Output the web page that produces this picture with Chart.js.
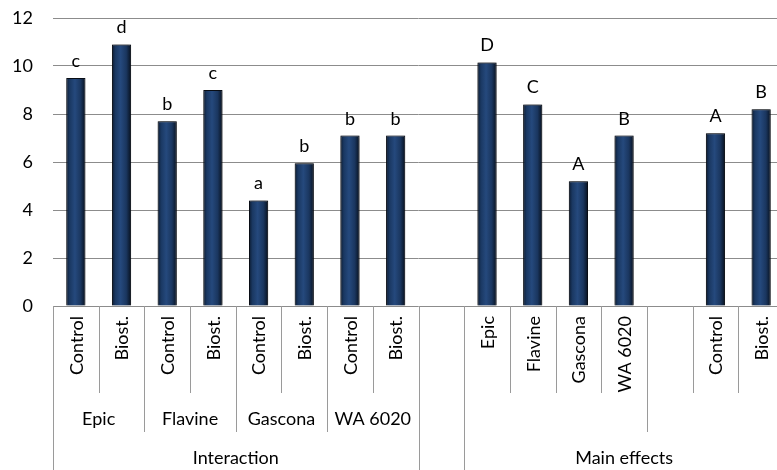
<!DOCTYPE html>
<html>
<head>
<meta charset="utf-8">
<script src="https://cdn.jsdelivr.net/npm/chart.js@4/dist/chart.umd.min.js"></script>
<style>
  html, body { margin: 0; padding: 0; background: #fff; overflow: hidden; }
  #wrap { width: 777px; height: 470px; overflow: hidden; }
</style>
</head>
<body>
<div id="wrap"><canvas id="chart" width="790" height="470"></canvas></div>
<script>
// bottom-level categories (one per slot, '' = spacer slot)
var categories = ['Control', 'Biost.', 'Control', 'Biost.', 'Control', 'Biost.', 'Control', 'Biost.', '',
                  'Epic', 'Flavine', 'Gascona', 'WA 6020', '', 'Control', 'Biost.'];
var values = [9.5, 10.9, 7.7, 9.0, 4.4, 5.95, 7.1, 7.1, null,
              10.15, 8.4, 5.2, 7.1, null, 7.2, 8.2];
var letters = ['c', 'd', 'b', 'c', 'a', 'b', 'b', 'b', '',
               'D', 'C', 'A', 'B', '', 'A', 'B'];

// second level: cultivar groups
var groupLabels = ['Epic', 'Flavine', 'Gascona', 'WA 6020', '', '', ''];
var groupSpans = [2, 2, 2, 2, 1, 4, 3];

// third level
var sectionLabels = ['Interaction', '', 'Main effects'];
var sectionSpans = [8, 1, 7];

var yTicks = [0, 2, 4, 6, 8, 10, 12];

var FONT = 'Lato';
var BAR_PCT = 0.42;
var LINE = '#9a9a9a';

function slotWidth(xs) {
  return xs.getPixelForValue(1) - xs.getPixelForValue(0);
}

// cylinder-like shading across each bar
function barFill(ctx) {
  var chart = ctx.chart;
  var xs = chart.scales.x;
  if (!xs || !chart.chartArea) return '#1f3d6b';
  var cx = xs.getPixelForValue(ctx.dataIndex);
  var half = slotWidth(xs) * BAR_PCT / 2;
  var g = chart.ctx.createLinearGradient(cx - half, 0, cx + half, 0);
  g.addColorStop(0, '#0b1a30');
  g.addColorStop(0.18, '#1a3862');
  g.addColorStop(0.45, '#25497d');
  g.addColorStop(0.75, '#1a365f');
  g.addColorStop(1, '#07101d');
  return g;
}

var barShadow = {
  id: 'barShadow',
  beforeDatasetsDraw: function (chart) {
    var c = chart.ctx;
    c.save();
    c.shadowColor = 'rgba(0,0,0,0.55)';
    c.shadowBlur = 3;
  },
  afterDatasetsDraw: function (chart) {
    chart.ctx.restore();
  }
};

var barLetters = {
  id: 'barLetters',
  afterDatasetsDraw: function (chart) {
    var c = chart.ctx;
    var meta = chart.getDatasetMeta(0);
    c.save();
    c.font = '18px ' + FONT;
    c.fillStyle = '#000';
    c.textAlign = 'center';
    c.textBaseline = 'alphabetic';
    meta.data.forEach(function (el, i) {
      if (values[i] == null || !letters[i]) return;
      c.fillText(letters[i], el.x, el.y - 11);
    });
    c.restore();
  }
};

// three-row category axis with separator lines
var groupedAxis = {
  id: 'groupedAxis',
  afterDraw: function (chart) {
    var c = chart.ctx;
    var xs = chart.scales.x;
    var top = chart.chartArea.bottom;
    var w = slotWidth(xs);
    var row1 = top + 87, row2 = top + 126, row3 = chart.height;
    function edge(i) { return xs.getPixelForValue(0) - w / 2 + i * w; }

    // depth of each boundary line
    var depth = [];
    for (var i = 0; i <= categories.length; i++) depth[i] = row1;
    var k = 0;
    groupSpans.forEach(function (s) { depth[k] = row2; k += s; depth[k] = row2; });
    k = 0;
    sectionSpans.forEach(function (s) { depth[k] = row3; k += s; depth[k] = row3; });

    c.save();
    c.strokeStyle = LINE;
    c.lineWidth = 1;
    for (var j = 0; j <= categories.length; j++) {
      var x = Math.round(edge(j)) + 0.5;
      c.beginPath();
      c.moveTo(x, top);
      c.lineTo(x, depth[j]);
      c.stroke();
    }

    c.fillStyle = '#000';
    c.font = '18px ' + FONT;

    // rotated bottom-level labels
    categories.forEach(function (lab, i) {
      if (!lab) return;
      c.save();
      c.translate(xs.getPixelForValue(i) + 1, top + 10);
      c.rotate(-Math.PI / 2);
      c.textAlign = 'right';
      c.textBaseline = 'middle';
      c.fillText(lab, 0, 0);
      c.restore();
    });

    c.textAlign = 'center';
    c.textBaseline = 'middle';
    k = 0;
    groupSpans.forEach(function (s, g) {
      if (groupLabels[g]) c.fillText(groupLabels[g], (edge(k) + edge(k + s)) / 2, top + 113);
      k += s;
    });
    k = 0;
    sectionSpans.forEach(function (s, g) {
      if (sectionLabels[g]) c.fillText(sectionLabels[g], (edge(k) + edge(k + s)) / 2, top + 152);
      k += s;
    });
    c.restore();
  }
};

new Chart(document.getElementById('chart'), {
  type: 'bar',
  data: {
    labels: categories,
    datasets: [{
      data: values,
      backgroundColor: barFill,
      borderColor: '#0a0f18',
      borderWidth: 1,
      barPercentage: BAR_PCT,
      categoryPercentage: 1
    }]
  },
  options: {
    responsive: false,
    animation: false,
    devicePixelRatio: 1,
    layout: { padding: { left: 0, top: 18, right: 6, bottom: 0 } },
    plugins: { legend: { display: false }, tooltip: { enabled: false } },
    scales: {
      x: {
        offset: true,
        grid: { display: false },
        border: { display: false },
        ticks: { display: false },
        afterFit: function (s) { s.height = 164; }
      },
      y: {
        min: 0,
        max: 12,
        afterBuildTicks: function (s) {
          s.ticks = yTicks.map(function (v) { return { value: v }; });
        },
        // invisible tick marks keep the labels clear of the plot edge
        grid: { color: '#8c8c8c', lineWidth: 1, drawTicks: true, tickLength: 20, tickColor: 'rgba(0,0,0,0)' },
        border: { display: false },
        ticks: { padding: 0, color: '#000', font: { family: FONT, size: 18 } },
        afterFit: function (s) { s.width = 53; }
      }
    }
  },
  plugins: [barShadow, barLetters, groupedAxis]
});
</script>
</body>
</html>
